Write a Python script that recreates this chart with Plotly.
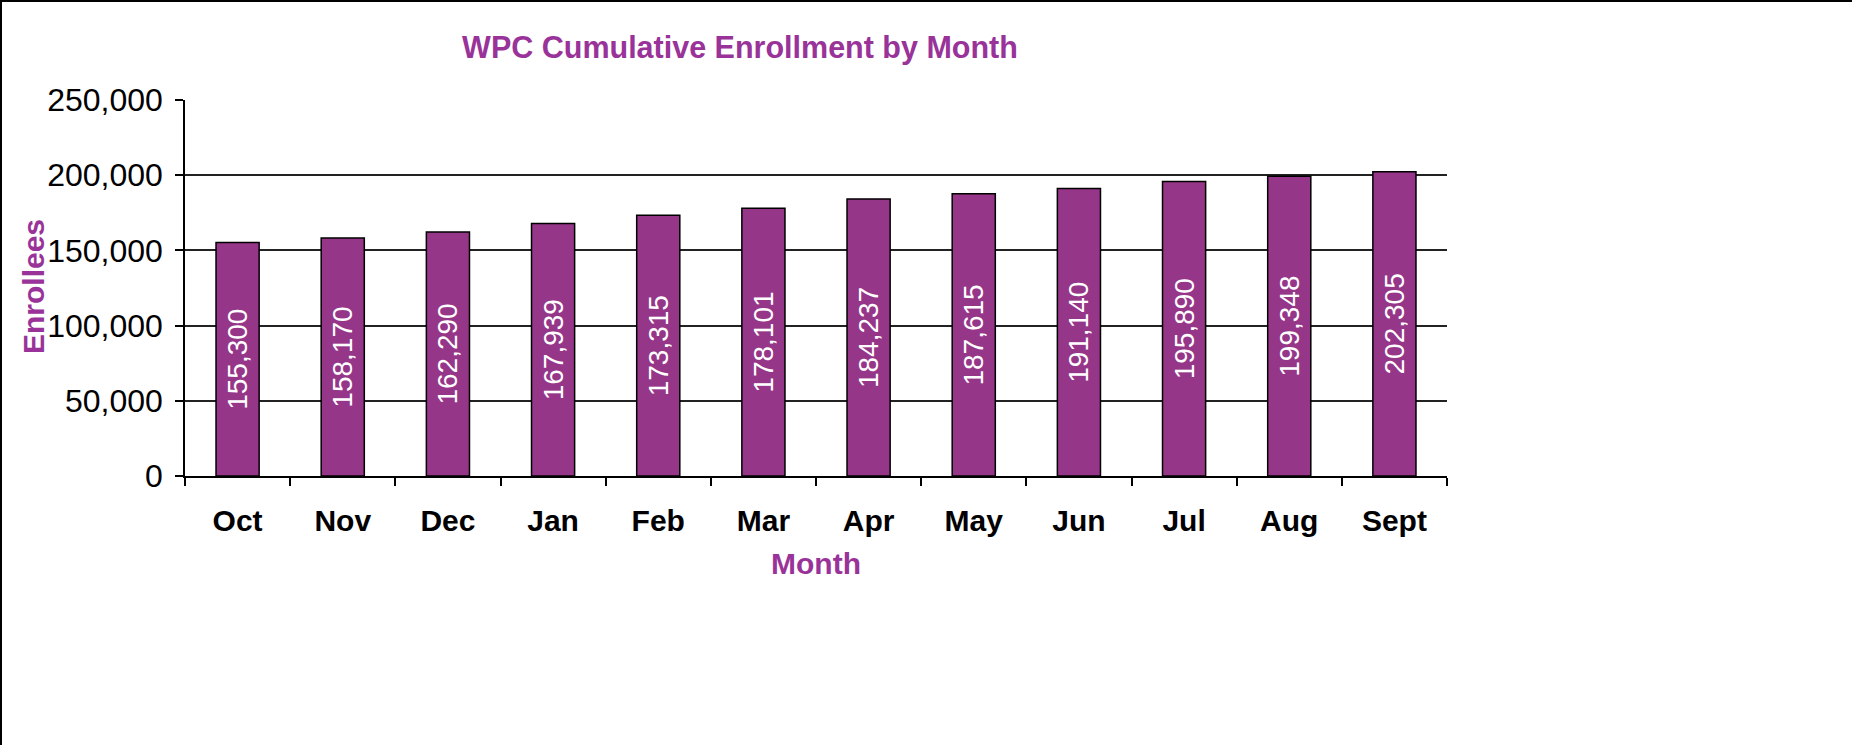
import plotly.graph_objects as go

months = ["Oct", "Nov", "Dec", "Jan", "Feb", "Mar", "Apr", "May", "Jun", "Jul", "Aug", "Sept"]
enrollees = [155300, 158170, 162290, 167939, 173315, 178101, 184237, 187615, 191140, 195890, 199348, 202305]
y_ticks = [0, 50000, 100000, 150000, 200000, 250000]

W, H = 1852, 745
L, R, T, B = 185, 1447, 100, 476

BAR = "#963689"
PURPLE = "#993399"
FONT = "Liberation Sans, Arial, sans-serif"

fig = go.Figure(go.Bar(
    x=months, y=enrollees,
    marker=dict(color=BAR, line=dict(color="black", width=1.5)),
    width=0.41,
    text=[f"{v:,}" for v in enrollees],
    textposition="inside", insidetextanchor="middle", textangle=-90,
    textfont=dict(family=FONT, size=28, color="white"),
    constraintext="none", cliponaxis=False,
))

def px_x(p):
    return (p - L) / (R - L)

def px_y(p):
    return (B - p) / (B - T)

fig.update_layout(
    width=W, height=H,
    margin=dict(l=L, r=W - R, t=T, b=H - B, pad=0),
    paper_bgcolor="white", plot_bgcolor="white",
    showlegend=False,
    title=dict(text="<b>WPC Cumulative Enrollment by Month</b>",
               font=dict(family=FONT, size=30.5, color=PURPLE),
               x=740 / W, xanchor="center", xref="container",
               y=1 - 47 / H, yanchor="middle", yref="container"),
    xaxis=dict(type="category", showline=True, linecolor="black", linewidth=1.5,
               ticks="outside", ticklen=8, tickwidth=1.5, tickcolor="black",
               tickson="boundaries", showgrid=False,
               tickfont=dict(family=FONT, size=30, color="black", weight="bold"),
               ticklabelstandoff=17, range=[-0.5, 11.5]),
    yaxis=dict(range=[0, 250000], tickvals=y_ticks, tickformat=",",
               showline=True, linecolor="black", linewidth=1.5,
               ticks="outside", ticklen=8, tickwidth=1.5, tickcolor="black",
               showgrid=True, gridcolor="#222222", gridwidth=1.5, zeroline=False,
               tickfont=dict(family=FONT, size=32, color="black"),
               ticklabelstandoff=6),
    annotations=[
        dict(text="<b>Enrollees</b>", x=px_x(33), y=px_y(287), xref="paper", yref="paper",
             textangle=-90, showarrow=False, xanchor="center", yanchor="middle",
             font=dict(family=FONT, size=30, color=PURPLE)),
        dict(text="<b>Month</b>", x=px_x(816), y=px_y(563), xref="paper", yref="paper",
             showarrow=False, xanchor="center", yanchor="middle",
             font=dict(family=FONT, size=30, color=PURPLE)),
    ],
    shapes=[
        dict(type="line", xref="paper", yref="paper", x0=px_x(0), x1=px_x(W + 5),
             y0=px_y(1), y1=px_y(1), line=dict(color="black", width=2)),
        dict(type="line", xref="paper", yref="paper", x0=px_x(1), x1=px_x(1),
             y0=px_y(0), y1=px_y(H + 5), line=dict(color="black", width=2)),
    ],
)

fig.write_html("out.html", config={"displayModeBar": False},
               post_script="document.body.style.margin='0';document.body.style.padding='0';")
